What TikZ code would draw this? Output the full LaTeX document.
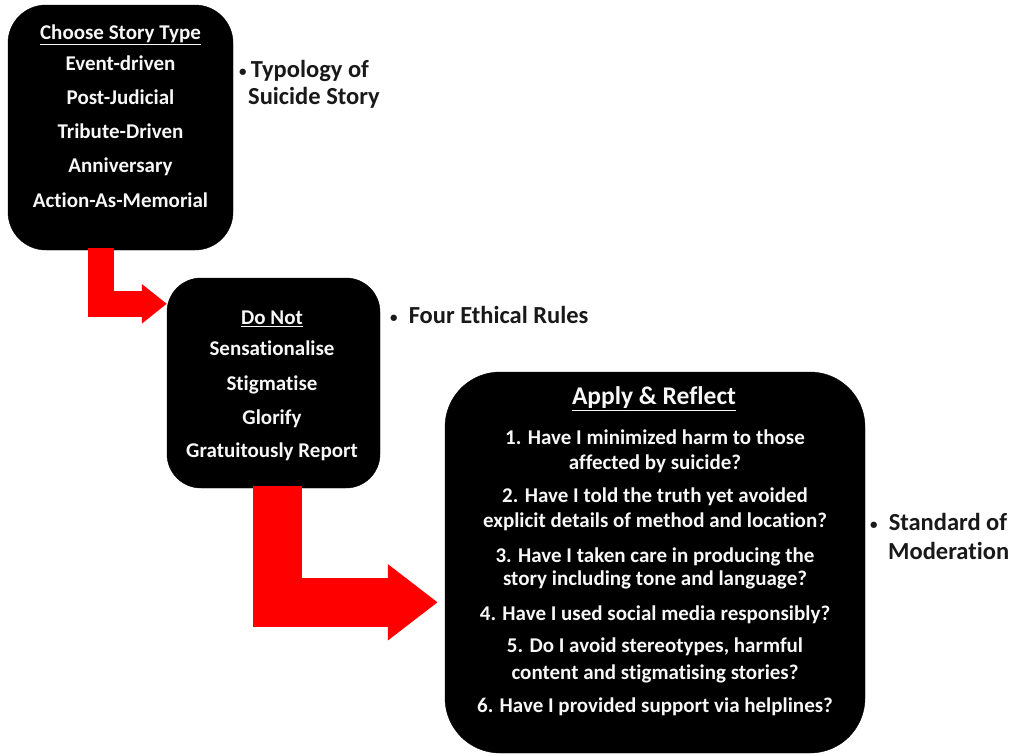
\documentclass[tikz,border=0pt]{standalone}
\usepackage{fontspec}
\setmainfont{Carlito}[RawFeature=-liga]
\usetikzlibrary{arrows.meta}
\newcommand{\smbul}{{\fontsize{15}{15}\selectfont\raisebox{1.5pt}{•}}}
\begin{document}
\begin{tikzpicture}[x=1pt,y=-1pt,
  box/.style={fill=black, draw=black, inner sep=0pt, shape=rectangle},
  bt/.style={text=gray!6, font=\bfseries\fontsize{21}{25}\selectfont, inner sep=0pt, text height=0.7em, text depth=0.2em, yshift=-5pt},
  ttl/.style={bt, font=\bfseries\fontsize{25.5}{30}\selectfont},
  lbl/.style={text=black!90, font=\bfseries\fontsize{24.5}{29}\selectfont, inner sep=0pt, anchor=west, text height=0.7em, text depth=0.2em, yshift=-5pt},
  redarrow/.style={draw=red, line join=miter},
]
\path[use as bounding box] (0,0) rectangle (1020,755);

% boxes
\node[box, minimum width=225pt, minimum height=245pt, rounded corners=38pt] (b1) at (120.5,127.5) {};
\node[box, minimum width=213pt, minimum height=210pt, rounded corners=34pt] (b2) at (273.5,383) {};
\node[box, minimum width=420pt, minimum height=381pt, rounded corners=55pt] (b3) at (655,562.5) {};

% arrows
\draw[redarrow, line width=26pt, -{Triangle[length=25pt,width=38pt]}]
  ([xshift=-20pt,yshift=2pt]b1.south) |- ([yshift=-26pt]b2.north west);
\draw[redarrow, line width=49pt, -{Triangle[length=50pt,width=73pt]}]
  ([xshift=4pt,yshift=2pt]b2.south) |- ([xshift=-7pt,yshift=-230.5pt]b3.north west);

% box 1 text
\node[bt] (t1a) at (120.5,32) {\underline{Choose Story Type}};
\node[bt] (t1b) at (120.5,63) {Event-driven};
\node[bt] (t1c) at (120.5,97) {Post-Judicial};
\node[bt] (t1d) at (120.5,131) {Tribute-Driven};
\node[bt] (t1e) at (120.5,165) {Anniversary};
\node[bt] (t1f) at (120.5,200) {Action-As-Memorial};

% box 2 text
\node[bt] (t2a) at (272,317) {\underline{Do Not}};
\node[bt] (t2b) at (272,348) {Sensationalise};
\node[bt] (t2c) at (272,383) {Stigmatise};
\node[bt] (t2d) at (272,417) {Glorify};
\node[bt] (t2e) at (272,450) {Gratuitously Report};

% box 3 text
\node[ttl] (t3a) at (654,397) {\underline{Apply \& Reflect}};
\node[bt] (t3b) at (655,437) {1. Have I minimized harm to those};
\node[bt] (t3c) at (655,462) {affected by suicide?};
\node[bt] (t3d) at (655,495) {2. Have I told the truth yet avoided};
\node[bt] (t3e) at (655,520) {explicit details of method and location?};
\node[bt] (t3f) at (655,555) {3. Have I taken care in producing the};
\node[bt] (t3g) at (655,578) {story including tone and language?};
\node[bt] (t3h) at (655,613) {4. Have I used social media responsibly?};
\node[bt] (t3i) at (655,645) {5. Do I avoid stereotypes, harmful};
\node[bt] (t3j) at (655,672) {content and stigmatising stories?};
\node[bt] (t3k) at (655,705) {6. Have I provided support via helplines?};

% side labels
\node[lbl] (l1a) at (239,70) {\smbul\,Typology of};
\node[lbl] (l1b) at (248,97) {Suicide Story};
\node[lbl] (l2) at (390,316) {\smbul\ \ Four Ethical Rules};
\node[lbl] (l3a) at (870,523) {\smbul\ \ Standard of};
\node[lbl] (l3b) at (888,552) {Moderation};
\end{tikzpicture}
\end{document}
